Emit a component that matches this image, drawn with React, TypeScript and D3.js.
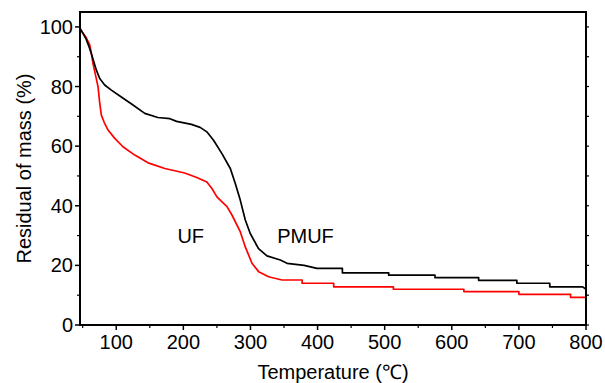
import React from "react";
import * as d3 from "d3";

// PMUF (black) series
const pmufTemp = [46, 50, 55, 60, 63, 67, 70.4, 75.4, 82.8, 92.7, 107.6, 125, 142.5, 162, 180, 190, 212, 225, 235, 245, 257.5, 270, 277.4, 284.8, 292.3, 299.7, 312, 324.6, 344.5, 354.5, 380, 399, 437, 437, 506, 506, 575, 575, 640, 640, 697, 697, 746, 746, 795, 800];
const pmufMass = [99.5, 98, 96, 93, 91, 88, 85.5, 82.7, 80.5, 78.8, 76.5, 73.8, 71, 69.6, 69.2, 68.3, 67.3, 66.3, 64.8, 62, 57.5, 52.5, 47.5, 41.9, 35.2, 30.7, 25.6, 23.2, 21.8, 20.7, 20, 19, 19, 17.5, 17.5, 16.7, 16.7, 15.9, 15.9, 15, 15, 14, 14, 12.8, 12.8, 12];

// UF (red) series
const ufTemp = [46, 50, 55, 60.5, 63, 65.4, 69, 72.9, 75.4, 77.8, 82, 87.8, 97.8, 110, 127.6, 147.5, 172.4, 202, 220, 235, 242.6, 250, 265, 272.4, 284.8, 292.3, 302.3, 312.2, 327, 347, 377, 377, 424, 424, 513, 513, 618, 618, 700, 700, 777, 777, 800];
const ufMass = [99.5, 98, 96.5, 94, 91, 87.7, 84, 79.9, 74.4, 70.4, 68, 65.4, 62.6, 59.8, 57, 54.4, 52.5, 51, 49.5, 48, 45.8, 43, 39.7, 36.9, 31.3, 26.2, 20.7, 17.9, 16.2, 15.1, 15.1, 14, 14, 12.8, 12.8, 12, 12, 11.2, 11.2, 10.3, 10.3, 9.3, 9.3];

const xMajor = [100, 200, 300, 400, 500, 600, 700, 800];
const xMinor = [50, 150, 250, 350, 450, 550, 650, 750];
const yMajor = [0, 20, 40, 60, 80, 100];
const yMinor = [10, 30, 50, 70, 90];

const seriesLabels = [
  { text: "UF", t: 211, m: 28 },
  { text: "PMUF", t: 382, m: 28 },
];

const W = 605;
const H = 383;
const M = { left: 80, right: 586, top: 12, bottom: 325 };
const FONT = "'Liberation Sans', Arial, Helvetica, sans-serif";
const FS = 20;

export default function App() {
  const x = d3.scaleLinear().domain([46, 800]).range([M.left, M.right]);
  const y = d3.scaleLinear().domain([0, 105]).range([M.bottom, M.top]);

  const line = d3
    .line<[number, number]>()
    .x((d) => x(d[0]))
    .y((d) => y(d[1]));

  const pmuf = pmufTemp.map((t, i) => [t, pmufMass[i]] as [number, number]);
  const uf = ufTemp.map((t, i) => [t, ufMass[i]] as [number, number]);

  return (
    <svg
      width={W}
      height={H}
      style={{ position: "absolute", left: 0, top: 0, background: "#fff" }}
      fontFamily={FONT}
    >
      <rect x={0} y={0} width={W} height={H} fill="#fff" />
      {/* curves */}
      <path d={line(uf) || ""} fill="none" stroke="#ff0000" strokeWidth={1.7} strokeLinejoin="round" />
      <path d={line(pmuf) || ""} fill="none" stroke="#000" strokeWidth={1.7} strokeLinejoin="round" />

      {/* frame */}
      <rect
        x={M.left}
        y={M.top}
        width={M.right - M.left}
        height={M.bottom - M.top}
        fill="none"
        stroke="#000"
        strokeWidth={2}
      />

      {/* x ticks */}
      {xMajor.map((v) => (
        <g key={"xm" + v}>
          <line x1={x(v)} x2={x(v)} y1={M.bottom} y2={M.bottom + 5} stroke="#000" strokeWidth={1.5} />
          <text x={x(v)} y={349} textAnchor="middle" fontSize={FS} fill="#000">
            {v}
          </text>
        </g>
      ))}
      {xMinor.map((v) => (
        <line key={"xn" + v} x1={x(v)} x2={x(v)} y1={M.bottom} y2={M.bottom + 3} stroke="#000" strokeWidth={1.2} />
      ))}

      {/* y ticks */}
      {yMajor.map((v) => (
        <g key={"ym" + v}>
          <line x1={M.left - 5} x2={M.left} y1={y(v)} y2={y(v)} stroke="#000" strokeWidth={1.5} />
          <line x1={M.right} x2={M.right + 3} y1={y(v)} y2={y(v)} stroke="#000" strokeWidth={1.2} />
          <text x={73} y={y(v)} dy="0.35em" textAnchor="end" fontSize={FS} fill="#000">
            {v}
          </text>
        </g>
      ))}
      {yMinor.map((v) => (
        <g key={"yn" + v}>
          <line x1={M.left - 3} x2={M.left} y1={y(v)} y2={y(v)} stroke="#000" strokeWidth={1.2} />
          <line x1={M.right} x2={M.right + 3} y1={y(v)} y2={y(v)} stroke="#000" strokeWidth={1.2} />
        </g>
      ))}

      {/* series labels */}
      {seriesLabels.map((l) => (
        <text key={l.text} x={x(l.t)} y={243} textAnchor="middle" fontSize={FS} fill="#000">
          {l.text}
        </text>
      ))}

      {/* axis titles */}
      <text x={(M.left + M.right) / 2} y={379} textAnchor="middle" fontSize={FS} fill="#000">
        Temperature (℃)
      </text>
      <text
        transform={`translate(31, ${(M.top + M.bottom) / 2}) rotate(-90)`}
        textAnchor="middle"
        fontSize={FS}
        fill="#000"
      >
        Residual of mass (%)
      </text>
    </svg>
  );
}
